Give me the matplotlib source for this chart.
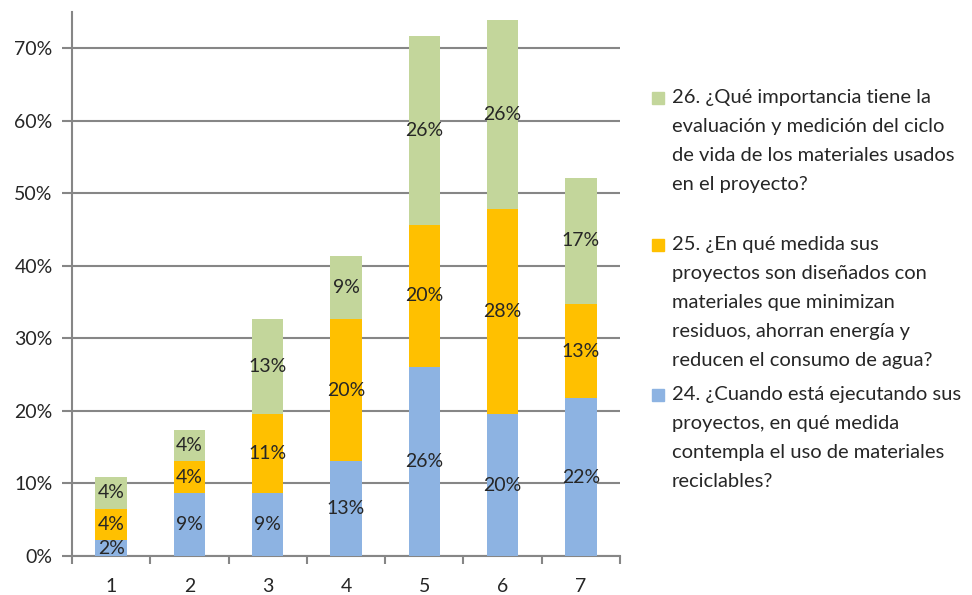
import numpy as np
import matplotlib.pyplot as plt
from matplotlib.patches import Rectangle

plt.rcParams['font.family'] = ['Lato', 'DejaVu Sans']

# Share of respondents (%) per rating 1-7, one array per question
ratings = [1, 2, 3, 4, 5, 6, 7]
q24 = [2.17, 8.70, 8.70, 13.04, 26.09, 19.57, 21.74]
q25 = [4.35, 4.35, 10.87, 19.57, 19.57, 28.26, 13.04]
q26 = [4.35, 4.35, 13.04, 8.70, 26.09, 26.09, 17.39]

q24_label = ("24. ¿Cuando está ejecutando sus\nproyectos, en qué medida\n"
             "contempla el uso de materiales\nreciclables?")
q25_label = ("25. ¿En qué medida sus\nproyectos son diseñados con\n"
             "materiales que minimizan\nresiduos, ahorran energía y\n"
             "reducen el consumo de agua?")
q26_label = ("26. ¿Qué importancia tiene la\nevaluación y medición del ciclo\n"
             "de vida de los materiales usados\nen el proyecto?")

blue = '#8DB3E2'
orange = '#FFC000'
green = '#C3D69B'
grid_col = '#868686'
txt_col = '#262626'

fig = plt.figure(figsize=(9.72, 5.95), dpi=100)
ax = fig.add_axes([72 / 972, 1 - 556 / 595, 548 / 972, 544 / 595])

x = np.array(ratings)
w = 0.4
bottom = np.zeros(len(x))
for vals, col in [(q24, blue), (q25, orange), (q26, green)]:
    vals = np.array(vals)
    ax.bar(x, vals, w, bottom=bottom, color=col, zorder=3)
    for xi, b, v in zip(x, bottom, vals):
        ax.text(xi, b + v / 2, f'{v:.0f}%', ha='center', va='center',
                fontsize=14, color=txt_col, zorder=4)
    bottom += vals

ax.set_xlim(0.5, 7.5)
ax.set_ylim(0, 75)
ax.set_yticks(np.arange(0, 71, 10))
ax.set_yticklabels([f'{v}%' for v in range(0, 71, 10)], fontsize=14, color=txt_col)
ax.set_xticks(x)
ax.set_xticklabels([str(r) for r in ratings], fontsize=14, color=txt_col)
ax.set_xticks(np.arange(0.5, 7.6, 1), minor=True)
ax.tick_params(axis='x', which='major', length=0, pad=16)
ax.tick_params(axis='x', which='minor', length=6, color=grid_col, width=1.5)
ax.tick_params(axis='y', length=7, color=grid_col, width=1.5, pad=7)
ax.grid(axis='y', color=grid_col, linewidth=1.5, zorder=0)
for s in ['top', 'right']:
    ax.spines[s].set_visible(False)
for s in ['left', 'bottom']:
    ax.spines[s].set_color(grid_col)
    ax.spines[s].set_linewidth(1.5)

# legend drawn by hand on the right
entries = [(q26_label, green, 98), (q25_label, orange, 245), (q24_label, blue, 395)]
for label, col, ymid in entries:
    fig.patches.append(Rectangle((652 / 972, 1 - (ymid + 6) / 595), 12 / 972, 12 / 595,
                                 transform=fig.transFigure, color=col))
    fig.text(672 / 972, 1 - (ymid - 9) / 595, label, fontsize=14.5, color=txt_col,
             va='top', ha='left', linespacing=1.85)

fig.savefig('out.png', dpi=100)
